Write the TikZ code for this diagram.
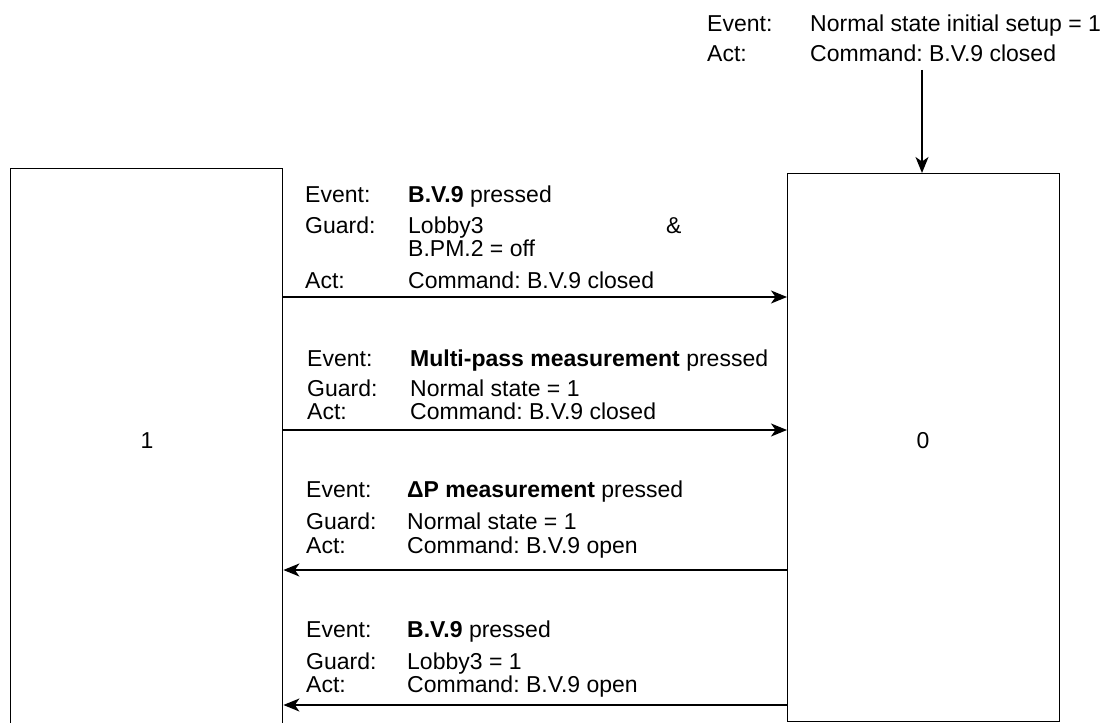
\documentclass[tikz,border=0pt]{standalone}
\usepackage{fontspec}
\setmainfont{Liberation Sans}
\usetikzlibrary{arrows.meta}
\frenchspacing
\begin{document}
\begin{tikzpicture}[x=1pt,y=-1pt,
  state/.style={draw, line width=1.4pt, rectangle, inner sep=0pt, anchor=north west},
  lbl/.style={anchor=base west, inner sep=0pt, font=\fontsize{23}{27}\selectfont},
  big/.style={inner sep=0pt, font=\fontsize{23}{27}\selectfont},
  trans/.style={line width=1.4pt, -{Stealth[length=16pt,width=13pt,inset=4.5pt]}}]
\useasboundingbox (0,0) rectangle (1115,722);
\clip (0,0) rectangle (1115,722);

% the two states
\node[state, minimum width=272pt, minimum height=600pt] (L) at (10,168) {};
\node[state, minimum width=272pt, minimum height=548pt] (R) at (787,173) {};
\node[big] (Ln) at (147,441) {1};
\node[big] (Rn) at (923,441) {0};

% initial transition
\node[lbl] (i1) at (707,32) {Event:};
\node[lbl] (i2) at (810,32) {Normal state initial setup = 1};
\node[lbl] (i3) at (707,62) {Act:};
\node[lbl] (i4) at (810,62) {Command: B.V.9 closed};
\coordinate (istart) at (922,70);
\draw[trans] (istart) -- (R.north -| istart);

% transition 1 -> 0 (B.V.9)
\node[lbl] (a1) at (305,202) {Event:};
\node[lbl] (a2) at (408,202) {\textbf{B.V.9} pressed};
\node[lbl] (a3) at (305,233) {Guard:};
\node[lbl] (a4) at (408,233) {Lobby3};
\node[lbl] (a5) at (666,233) {\&};
\node[lbl] (a6) at (408,256) {B.PM.2 = off};
\node[lbl] (a7) at (305,288) {Act:};
\node[lbl] (a8) at (408,288) {Command: B.V.9 closed};
\coordinate (ya) at (0,297);
\draw[trans] (L.east |- ya) -- (R.west |- ya);

% transition 1 -> 0 (multi-pass)
\node[lbl] (b1) at (307,366) {Event:};
\node[lbl] (b2) at (410,366) {\textbf{Multi-pass measurement} pressed};
\node[lbl] (b3) at (307,396) {Guard:};
\node[lbl] (b4) at (410,396) {Normal state = 1};
\node[lbl] (b5) at (307,419) {Act:};
\node[lbl] (b6) at (410,419) {Command: B.V.9 closed};
\coordinate (yb) at (0,430);
\draw[trans] (L.east |- yb) -- (R.west |- yb);

% transition 0 -> 1 (delta P)
\node[lbl] (c1) at (306,497) {Event:};
\node[lbl] (c2) at (407,497) {\textbf{ΔP measurement} pressed};
\node[lbl] (c3) at (306,529) {Guard:};
\node[lbl] (c4) at (407,529) {Normal state = 1};
\node[lbl] (c5) at (306,553) {Act:};
\node[lbl] (c6) at (407,553) {Command: B.V.9 open};
\coordinate (yc) at (0,570);
\draw[trans] (R.west |- yc) -- (L.east |- yc);

% transition 0 -> 1 (B.V.9)
\node[lbl] (d1) at (306,637) {Event:};
\node[lbl] (d2) at (407,637) {\textbf{B.V.9} pressed};
\node[lbl] (d3) at (306,669) {Guard:};
\node[lbl] (d4) at (407,669) {Lobby3 = 1};
\node[lbl] (d5) at (306,692) {Act:};
\node[lbl] (d6) at (407,692) {Command: B.V.9 open};
\coordinate (yd) at (0,705);
\draw[trans] (R.west |- yd) -- (L.east |- yd);
\end{tikzpicture}
\end{document}
